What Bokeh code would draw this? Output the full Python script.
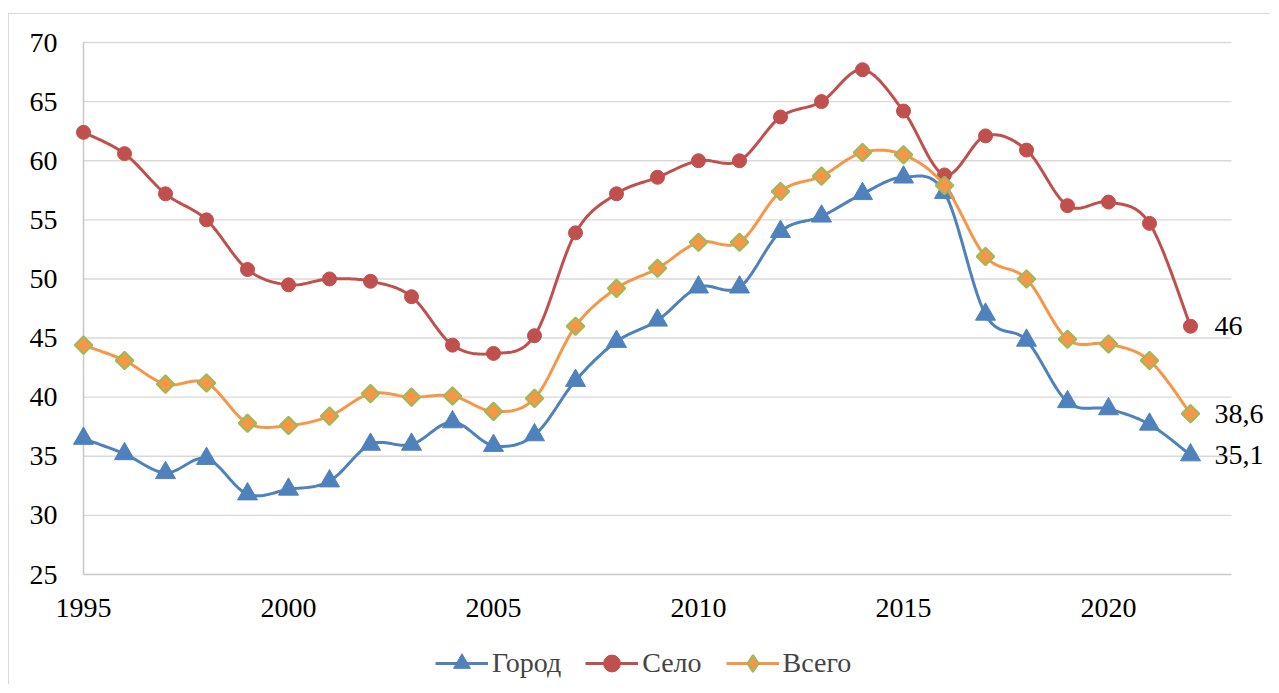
import numpy as np
from bokeh.plotting import figure
from bokeh.models import (Range1d, FixedTicker, Legend, LegendItem, ColumnDataSource,
                          LabelSet)
from bokeh.embed import file_html
from bokeh.resources import INLINE

# ---- data ----
years = list(range(1995, 2023))
gorod = [36.5, 35.2, 33.6, 34.8, 31.8, 32.2, 32.9, 36.0, 36.0, 37.9, 35.9, 36.8, 41.4, 44.7,
         46.5, 49.3, 49.3, 54.0, 55.3, 57.2, 58.6, 57.3, 47.0, 44.8, 39.6, 39.0, 37.7, 35.1]
selo = [62.4, 60.6, 57.2, 55.0, 50.8, 49.5, 50.0, 49.8, 48.5, 44.4, 43.7, 45.2, 53.9, 57.2,
        58.6, 60.0, 60.0, 63.7, 65.0, 67.7, 64.2, 58.8, 62.1, 60.9, 56.2, 56.5, 54.7, 46.0]
vsego = [44.4, 43.1, 41.1, 41.2, 37.8, 37.6, 38.4, 40.3, 40.0, 40.1, 38.8, 39.9, 46.0, 49.2,
         50.9, 53.1, 53.1, 57.4, 58.7, 60.7, 60.5, 57.9, 51.9, 50.0, 44.9, 44.5, 43.1, 38.6]
series_names = ["Город", "Село", "Всего"]
x_ticks = [1995, 2000, 2005, 2010, 2015, 2020]
y_ticks = [25, 30, 35, 40, 45, 50, 55, 60, 65, 70]
X_MIN, X_MAX = 1995, 2023   # extent of the plot area
Y_MIN, Y_MAX = 25, 70

FONT = "Liberation Serif"
BLUE, RED, ORANGE, GREEN = "#4f81bd", "#c0504d", "#f79646", "#9bbb59"
GRID = "#d9d9d9"
AXIS = "#c8c8c8"


def smooth(xs, ys, n=24):
    """Bezier smoothing through the points (Excel-like, tension 1/6)."""
    xs = np.asarray(xs, float)
    ys = np.asarray(ys, float)
    px = np.concatenate([[xs[0]], xs, [xs[-1]]])
    py = np.concatenate([[ys[0]], ys, [ys[-1]]])
    ox, oy = [], []
    t = np.linspace(0, 1, n, endpoint=False)
    for i in range(1, len(px) - 2):
        p0x, p0y = px[i], py[i]
        p3x, p3y = px[i + 1], py[i + 1]
        c1x = p0x + (px[i + 1] - px[i - 1]) / 6
        c1y = p0y + (py[i + 1] - py[i - 1]) / 6
        c2x = p3x - (px[i + 2] - px[i]) / 6
        c2y = p3y - (py[i + 2] - py[i]) / 6
        b0 = (1 - t) ** 3
        b1 = 3 * (1 - t) ** 2 * t
        b2 = 3 * (1 - t) * t ** 2
        b3 = t ** 3
        ox.extend(b0 * p0x + b1 * c1x + b2 * c2x + b3 * p3x)
        oy.extend(b0 * p0y + b1 * c1y + b2 * c2y + b3 * p3y)
    ox.append(xs[-1])
    oy.append(ys[-1])
    return ox, oy


# layout (pixels)
W, H = 1262, 671
LEFT_PX, TOP_PX = 74, 28          # position of the plot area inside the canvas
PX_PER_X = 41.0                   # pixels per year
PX_PER_Y = 532 / 45.0             # pixels per unit
x_start = X_MIN - LEFT_PX / PX_PER_X
x_end = X_MIN + (W - LEFT_PX) / PX_PER_X
y_start = Y_MAX - (H - TOP_PX) / PX_PER_Y
y_end = Y_MAX + TOP_PX / PX_PER_Y

p = figure(width=W, height=H, output_backend="svg", toolbar_location=None,
           x_range=Range1d(x_start, x_end), y_range=Range1d(y_start, y_end),
           min_border=0)
p.outline_line_color = None
p.background_fill_color = "white"
p.border_fill_color = "white"
p.margin = (13, 0, 0, 8)
p.styles = {"border-top": "1px solid #d9d9d9", "border-left": "1px solid #d9d9d9"}

# axes (placed at the plot-area edges)
p.xaxis.ticker = FixedTicker(ticks=x_ticks)
p.yaxis.ticker = FixedTicker(ticks=y_ticks)
for ax in (p.xaxis[0], p.yaxis[0]):
    ax.major_label_text_font = FONT
    ax.major_label_text_font_size = "28px"
    ax.major_label_text_color = "black"
    ax.major_tick_line_color = None
    ax.minor_tick_line_color = None
    ax.axis_line_color = None
p.xaxis.fixed_location = Y_MIN
p.yaxis.fixed_location = X_MIN
p.xaxis.major_label_standoff = 18
p.yaxis.major_label_standoff = 20
p.xgrid.grid_line_color = None
p.ygrid.grid_line_color = None

# horizontal gridlines limited to the plot area, plus axis lines
p.segment(x0=[X_MIN] * (len(y_ticks) - 1), x1=[X_MAX] * (len(y_ticks) - 1),
          y0=y_ticks[1:], y1=y_ticks[1:], line_color=GRID, line_width=1.4)
p.segment(x0=[X_MIN, X_MIN], x1=[X_MAX, X_MIN], y0=[Y_MIN, Y_MIN], y1=[Y_MIN, Y_MAX],
          line_color=AXIS, line_width=1.5)

items = []
specs = [
    (gorod, BLUE, dict(marker="triangle", size=20, fill_color=BLUE, line_color=BLUE), None),
    (selo, RED, dict(marker="circle", size=14, fill_color=RED, line_color=RED), None),
    (vsego, ORANGE, dict(marker="square", size=12.5, angle=np.pi / 4, fill_color=ORANGE,
                         line_color=GREEN, line_width=2),
     dict(marker="diamond", fill_color=ORANGE, line_color=GREEN, line_width=2)),
]
for name, (vals, col, mk, leg_mk) in zip(series_names, specs):
    sx, sy = smooth(years, vals)
    lr = p.line(sx, sy, line_color=col, line_width=3)
    sr = p.scatter(years, vals, **mk)
    if leg_mk is not None:
        sr = p.scatter([np.nan], [np.nan], size=10, **leg_mk)
    items.append(LegendItem(label=name, renderers=[lr, sr]))

legend = Legend(items=items, orientation="horizontal", location=(426, 1),
                glyph_width=53, glyph_height=42, label_standoff=4, spacing=24,
                label_text_font=FONT, label_text_font_size="28px",
                background_fill_alpha=0, border_line_color=None,
                margin=0, padding=0)
p.add_layout(legend)

# end labels
lab_vals = [gorod[-1], selo[-1], vsego[-1]]
lab_src = ColumnDataSource(dict(
    x=[years[-1]] * 3, y=lab_vals,
    t=[("%g" % v).replace(".", ",") for v in lab_vals]))
p.add_layout(LabelSet(x="x", y="y", text="t", source=lab_src, x_offset=24,
                      text_baseline="middle", text_font=FONT, text_font_size="28px",
                      text_color="black"))

open("out.html", "w").write(file_html(p, INLINE))
